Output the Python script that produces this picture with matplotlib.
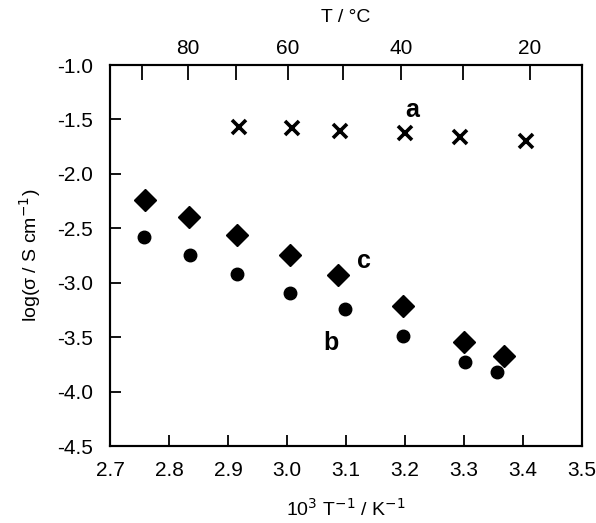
import numpy as np
import matplotlib
matplotlib.use("Agg")
import matplotlib.pyplot as plt

plt.rcParams['font.family'] = ['Liberation Sans', 'DejaVu Sans']

# series a (crosses)
a_x = [2.919, 3.008, 3.090, 3.200, 3.293, 3.405]
a_y = [-1.567, -1.576, -1.607, -1.628, -1.665, -1.698]

# series b (circles)
b_x = [2.758, 2.836, 2.916, 3.005, 3.098, 3.197, 3.302, 3.356]
b_y = [-2.579, -2.741, -2.924, -3.091, -3.238, -3.488, -3.732, -3.823]

# series c (diamonds)
c_x = [2.759, 2.834, 2.916, 3.005, 3.086, 3.197, 3.300, 3.368]
c_y = [-2.238, -2.399, -2.564, -2.741, -2.927, -3.213, -3.549, -3.671]

# top axis temperatures
temp_ticks = [90, 80, 70, 60, 50, 40, 30, 20]
temp_labels = ['', '80', '', '60', '', '40', '', '20']

fig = plt.figure(figsize=(5.96, 5.23), dpi=100)
ax = fig.add_axes([0.1846, 0.1472, 0.7919, 0.7285])

ax.plot(a_x, a_y, 'x', color='black', ms=10, mew=2.6, ls='none')
ax.plot(b_x, b_y, 'o', color='black', ms=9, ls='none')
ax.plot(c_x, c_y, 'D', color='black', ms=11, ls='none')

ax.text(3.212, -1.415, 'a', fontsize=18, fontweight='bold', ha='center', va='center')
ax.text(3.130, -2.80, 'c', fontsize=18, fontweight='bold', ha='center', va='center')
ax.text(3.074, -3.55, 'b', fontsize=18, fontweight='bold', ha='center', va='center')

ax.set_xlim(2.7, 3.5)
ax.set_ylim(-4.5, -1.0)
ax.set_xticks(np.arange(2.7, 3.51, 0.1))
ax.set_yticks(np.arange(-4.5, -0.99, 0.5))
ax.xaxis.set_major_formatter(matplotlib.ticker.FormatStrFormatter('%.1f'))
ax.yaxis.set_major_formatter(matplotlib.ticker.FormatStrFormatter('%.1f'))
ax.tick_params(direction='in', length=8, width=1.3, labelsize=15, pad=12)
ax.tick_params(axis='x', pad=11)

for s in ax.spines.values():
    s.set_linewidth(1.5)

ax.set_xlabel('10$^3$ T$^{-1}$ / K$^{-1}$', fontsize=14, labelpad=13)
ax.set_ylabel('log(σ / S cm$^{-1}$)', fontsize=14, labelpad=10)

top = ax.twiny()
top.set_xlim(ax.get_xlim())
top.set_xticks([1000.0 / (t + 273.15) for t in temp_ticks])
top.set_xticklabels(temp_labels)
top.tick_params(direction='in', length=11, width=1.3, labelsize=15, pad=5)
top.set_xlabel('T / °C', fontsize=14, labelpad=12)
for s in top.spines.values():
    s.set_linewidth(1.5)

fig.savefig('out.png', dpi=100)
